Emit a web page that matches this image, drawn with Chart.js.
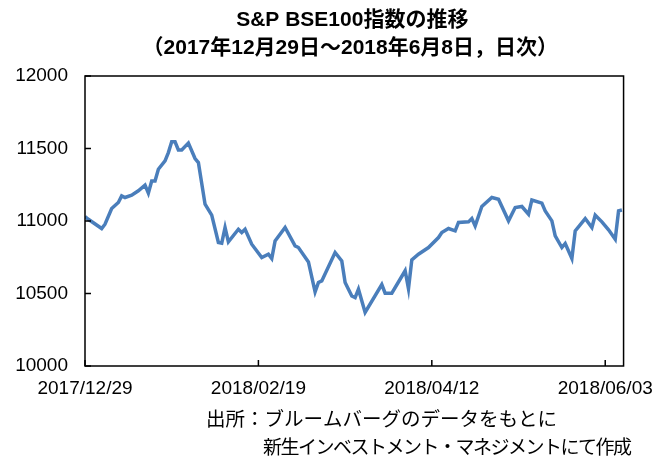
<!DOCTYPE html>
<html>
<head>
<meta charset="utf-8">
<script src="https://cdn.jsdelivr.net/npm/chart.js@4.4.1/dist/chart.umd.min.js"></script>
<style>
  body { margin: 0; background: #fff; }
  #c { display: block; }
</style>
</head>
<body>
<canvas id="c" width="665" height="462"></canvas>
<script>
// S&P BSE100 index
const dates = [
  '2017/12/29','2017/12/30','2018/01/03','2018/01/04','2018/01/06','2018/01/08','2018/01/09','2018/01/10',
  '2018/01/12','2018/01/14','2018/01/16','2018/01/17','2018/01/18','2018/01/19','2018/01/20','2018/01/22',
  '2018/01/23','2018/01/24','2018/01/25','2018/01/26','2018/01/27','2018/01/29','2018/01/31','2018/02/01',
  '2018/02/03','2018/02/05','2018/02/07','2018/02/08','2018/02/09','2018/02/10','2018/02/13','2018/02/14',
  '2018/02/15','2018/02/17','2018/02/20','2018/02/22','2018/02/23','2018/02/24','2018/02/27','2018/03/02',
  '2018/03/03','2018/03/06','2018/03/08','2018/03/09','2018/03/10','2018/03/14','2018/03/16','2018/03/17',
  '2018/03/19','2018/03/20','2018/03/21','2018/03/23','2018/03/28','2018/03/29','2018/03/31','2018/04/04',
  '2018/04/05','2018/04/06','2018/04/08','2018/04/11','2018/04/14','2018/04/15','2018/04/17','2018/04/19',
  '2018/04/20','2018/04/23','2018/04/24','2018/04/25','2018/04/27','2018/04/30','2018/05/02','2018/05/05',
  '2018/05/07','2018/05/09','2018/05/11','2018/05/12','2018/05/15','2018/05/16','2018/05/18','2018/05/19',
  '2018/05/21','2018/05/22','2018/05/24','2018/05/25','2018/05/28','2018/05/30','2018/05/31','2018/06/02',
  '2018/06/04','2018/06/06','2018/06/07','2018/06/08'
];
const values = [
  11031, 11012, 10948, 10978, 11086, 11128, 11173, 11162,
  11178, 11208, 11247, 11192, 11276, 11276, 11357, 11414,
  11472, 11546, 11546, 11490, 11490, 11537, 11431, 11403,
  11116, 11040, 10852, 10847, 10955, 10856, 10943, 10921,
  10943, 10840, 10748, 10771, 10741, 10863, 10955, 10828,
  10817, 10718, 10511, 10576, 10587, 10783, 10725, 10576,
  10483, 10472, 10530, 10369, 10562, 10502, 10502, 10657,
  10533, 10732, 10771, 10817, 10886, 10921, 10948, 10932,
  10990, 10994, 11017, 10966, 11100, 11162, 11150, 11001,
  11093, 11100, 11047, 11145, 11123, 11070, 11001, 10897,
  10817, 10845, 10741, 10932, 11017, 10955, 11040, 10994,
  10939, 10874, 11070, 11076
];
const tickDates = ['2017/12/29', '2018/02/19', '2018/04/12', '2018/06/03'];
const yTicks = [10000, 10500, 11000, 11500, 12000];
const titleLines = ['S&P BSE100指数の推移', '（2017年12月29日～2018年6月8日，日次）'];
const sourceLines = ['出所：ブルームバーグのデータをもとに', '新生インベストメント・マネジメントにて作成'];

const dayOf = s => {
  const p = s.split('/').map(Number);
  return (Date.UTC(p[0], p[1] - 1, p[2]) - Date.UTC(2017, 11, 29)) / 86400000;
};
const points = dates.map((d, i) => ({ x: dayOf(d), y: values[i] }));

const FONT = '"Liberation Sans", Arial, "Noto Sans CJK JP", sans-serif';

const framePlugin = {
  id: 'frame',
  afterDraw(chart) {
    const ctx = chart.ctx;
    const a = chart.chartArea;
    const xs = chart.scales.x, ys = chart.scales.y;
    ctx.save();
    ctx.strokeStyle = '#000';
    ctx.lineWidth = 1.5;
    ctx.strokeRect(a.left, a.top, a.right - a.left, a.bottom - a.top);
    ctx.beginPath();
    yTicks.forEach(v => {
      const y = ys.getPixelForValue(v);
      ctx.moveTo(a.left, y); ctx.lineTo(a.left + 6, y);
    });
    tickDates.forEach(d => {
      const x = xs.getPixelForValue(dayOf(d));
      ctx.moveTo(x, a.bottom); ctx.lineTo(x, a.bottom - 6);
    });
    ctx.stroke();

    // title
    const cx = (a.left + a.right) / 2;
    ctx.fillStyle = '#000';
    ctx.textAlign = 'center';
    ctx.textBaseline = 'middle';
    ctx.font = 'bold 21px ' + FONT;
    ctx.fillText(titleLines[0], cx - 2, 20);
    ctx.fillText(titleLines[1], cx - 4, 48);

    // source note
    ctx.textAlign = 'left';
    ctx.font = '19.5px ' + FONT;
    ctx.fillText(sourceLines[0], 206, 421);
    ctx.font = '19px ' + FONT;
    ctx.letterSpacing = '-1.5px';
    ctx.fillText(sourceLines[1], 263, 449);
    ctx.restore();
  }
};

new Chart(document.getElementById('c'), {
  type: 'line',
  data: {
    datasets: [{
      data: points,
      borderColor: '#4a7ebb',
      borderWidth: 3.5,
      pointRadius: 0,
      tension: 0,
      fill: false
    }]
  },
  options: {
    responsive: false,
    animation: false,
    layout: { padding: { top: 76, right: 36, bottom: 0, left: 0 } },
    plugins: { legend: { display: false }, tooltip: { enabled: false } },
    scales: {
      x: {
        type: 'linear',
        min: 0,
        max: dayOf('2018/06/08') + 0.5,
        grid: { display: false, drawTicks: false },
        border: { display: false },
        afterFit(scale) { scale.height = 96; },
        afterBuildTicks(scale) {
          scale.ticks = tickDates.map(d => ({ value: dayOf(d) }));
        },
        ticks: {
          autoSkip: false,
          maxRotation: 0,
          padding: 11,
          color: '#000',
          font: { family: FONT, size: 19 },
          callback: (v, i) => tickDates[i]
        }
      },
      y: {
        min: 10000,
        max: 12000,
        grid: { display: false, drawTicks: false },
        border: { display: false },
        afterFit(scale) { scale.width = 85; },
        afterBuildTicks(scale) {
          scale.ticks = yTicks.map(v => ({ value: v }));
        },
        ticks: {
          padding: 17,
          color: '#000',
          font: { family: FONT, size: 19 },
          callback: v => String(v)
        }
      }
    }
  },
  plugins: [framePlugin]
});
</script>
</body>
</html>
